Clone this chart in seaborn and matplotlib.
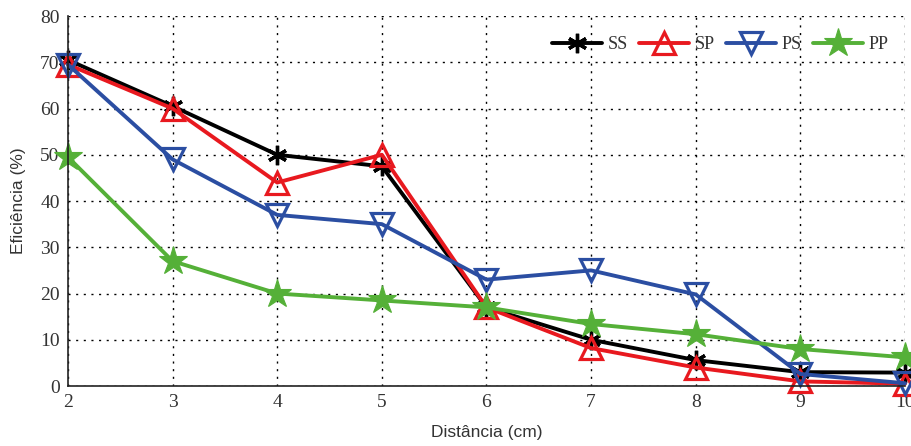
import matplotlib
matplotlib.use("Agg")
import matplotlib.pyplot as plt
import seaborn as sns
import pandas as pd

# Distance between coils (cm) and efficiency (%) for each topology
distancia = [2, 3, 4, 5, 6, 7, 8, 9, 10]
ss = [70.5, 60.5, 50.0, 47.5, 17.0, 10.0, 5.6, 3.0, 2.9]
sp = [69.5, 60.0, 44.0, 50.0, 17.0, 8.2, 4.0, 1.0, 0.5]
ps = [69.5, 49.0, 37.0, 35.0, 23.0, 25.0, 19.8, 2.6, 0.6]
pp = [49.5, 27.0, 20.0, 18.5, 17.0, 13.4, 11.2, 8.0, 6.2]

x_ticks = [2, 3, 4, 5, 6, 7, 8, 9, 10]
y_ticks = [0, 10, 20, 30, 40, 50, 60, 70, 80]

sns.set_style("white")
serif = ["Liberation Serif", "DejaVu Serif"]
sans = ["Liberation Sans", "DejaVu Sans"]

fig = plt.figure(figsize=(9.11, 4.46), dpi=100)
ax = fig.add_axes([0.0746, 0.1345, 0.9188, 0.8296])

series = [
    ("SS", ss, "#000000", dict(marker=(6, 2, 0), markersize=14, markeredgewidth=2.4)),
    ("SP", sp, "#e8191f", dict(marker="^", markersize=16, markerfacecolor="none", markeredgewidth=2.3)),
    ("PS", ps, "#2b4ea2", dict(marker="v", markersize=16, markerfacecolor="none", markeredgewidth=2.3)),
    ("PP", pp, "#55b038", dict(marker="*", markersize=21, markeredgewidth=0.8)),
]

for name, values, color, mk in series:
    df = pd.DataFrame({"dist": distancia, "eff": values})
    sns.lineplot(data=df, x="dist", y="eff", ax=ax, color=color, linewidth=2.8,
                 label=name, markeredgecolor=color, clip_on=False, **mk)

ax.set_xlim(2, 10)
ax.set_ylim(0, 80)
ax.set_xticks(x_ticks)
ax.set_yticks(y_ticks)
ax.set_xticklabels([str(t) for t in x_ticks], family=serif, fontsize=14)
ax.set_yticklabels([str(t) for t in y_ticks], family=serif, fontsize=14)
ax.tick_params(direction="in", length=5, width=1, colors="#222222", pad=6)
for lbl in ax.get_xticklabels() + ax.get_yticklabels():
    lbl.set_color("#333333")

ax.grid(True, linestyle=(0, (1.5, 4)), color="#000000", linewidth=1.0)
ax.set_axisbelow(True)
for side in ["top", "right"]:
    ax.spines[side].set_visible(False)
for side in ["left", "bottom"]:
    ax.spines[side].set_color("#222222")
    ax.spines[side].set_linewidth(1.2)

ax.set_xlabel("Distância (cm)", family=sans, fontsize=12.5, color="#333333", labelpad=10)
ax.set_ylabel("Eficiência (%)", family=sans, fontsize=12.5, color="#333333", labelpad=10)

leg = ax.legend(loc="upper right", bbox_to_anchor=(1.0, 0.99), ncol=4, frameon=False,
                handlelength=2.8, columnspacing=0.6, handletextpad=0.3,
                prop={"family": serif, "size": 13})
for t in leg.get_texts():
    t.set_color("#333333")

fig.savefig("out.png", dpi=100)
